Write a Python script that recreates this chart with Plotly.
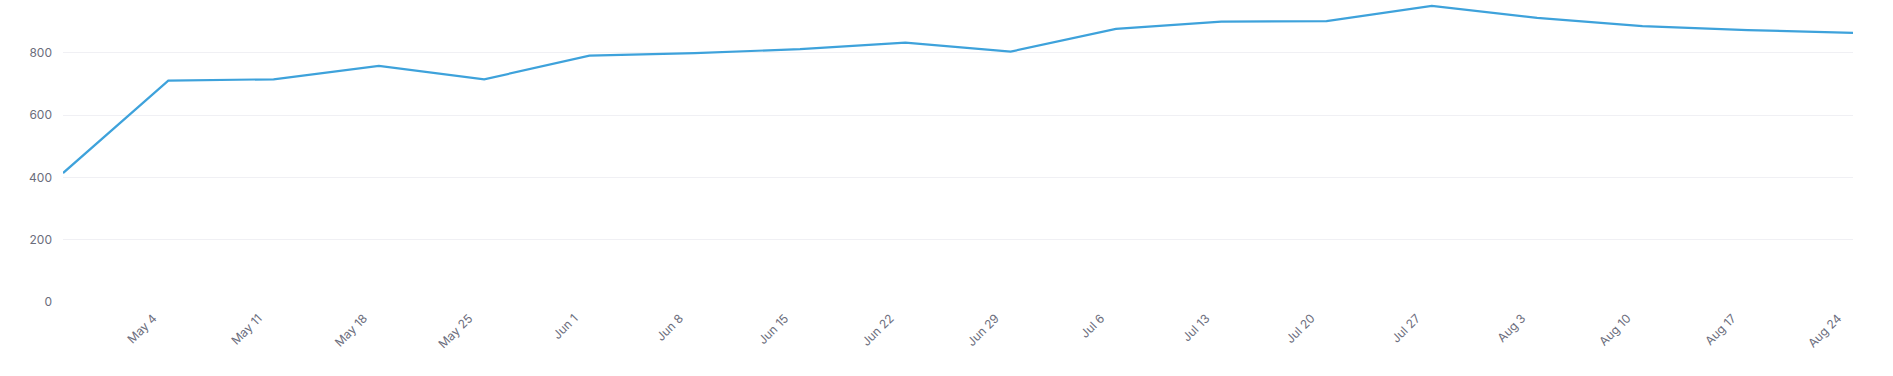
import plotly.graph_objects as go
import pandas as pd

dates = pd.date_range("2024-04-28", periods=18, freq="7D")
values = [414, 711, 715, 758, 715, 791, 799, 812, 833, 804, 877, 900, 902, 951, 912, 886, 873, 864]

tick_dates = pd.date_range("2024-05-04", periods=17, freq="7D")
tick_labels = ["May 4", "May 11", "May 18", "May 25", "Jun 1", "Jun 8", "Jun 15", "Jun 22",
               "Jun 29", "Jul 6", "Jul 13", "Jul 20", "Jul 27", "Aug 3", "Aug 10", "Aug 17", "Aug 24"]
y_ticks = [0, 200, 400, 600, 800]

fig = go.Figure()
fig.add_trace(go.Scatter(
    x=dates, y=values, mode="lines",
    line=dict(color="#3ea2db", width=2.2),
    hoverinfo="x+y",
))

font_color = "#6b6d7c"
fig.update_layout(
    width=1893, height=376,
    margin=dict(l=63, r=40, t=3, b=74),
    paper_bgcolor="white", plot_bgcolor="white",
    showlegend=False,
    font=dict(family="Inter, Roboto, sans-serif", size=12, color=font_color),
)
fig.update_xaxes(
    range=[dates[0], dates[-1]],
    tickvals=tick_dates, ticktext=tick_labels,
    tickangle=-45,
    showgrid=False, zeroline=False, showline=False,
    ticks="", ticklabelstandoff=6,
    tickfont=dict(size=12, color=font_color),
)
fig.update_yaxes(
    range=[0, 960],
    tickvals=y_ticks,
    showgrid=True, gridcolor="#f0f0f4", gridwidth=1,
    zeroline=False, showline=False,
    ticks="", ticklabelstandoff=10,
    tickfont=dict(size=12, color=font_color),
)

fig.write_html("out.html", config={"displayModeBar": False},
               post_script="document.body.style.margin='0';")
